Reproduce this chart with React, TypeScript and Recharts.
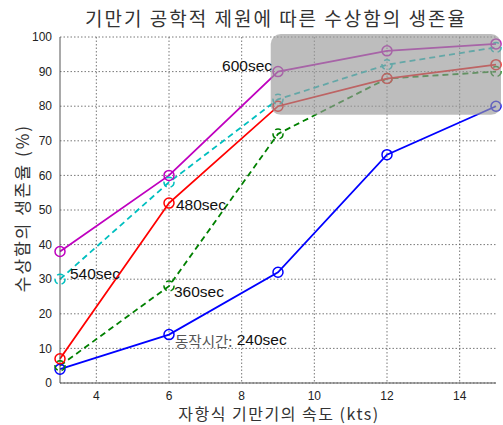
import React from 'react'
import { LineChart, Line, XAxis, YAxis, CartesianGrid, ReferenceArea, LabelList } from 'recharts'

const speeds = [3, 6, 9, 12, 15]
const sec240 = [4, 14, 32, 66, 80]
const sec360 = [5, 28, 72, 88, 90]
const sec480 = [7, 52, 80, 88, 92]
const sec540 = [30, 58, 82, 92, 97]
const sec600 = [38, 60, 90, 96, 98]
const xTicks = [4, 6, 8, 10, 12, 14]
const yTicks = [0, 10, 20, 30, 40, 50, 60, 70, 80, 90, 100]

const data = speeds.map((s, i) => ({
  speed: s,
  s240: sec240[i],
  s360: sec360[i],
  s480: sec480[i],
  s540: sec540[i],
  s600: sec600[i],
}))

const FONT = '"Liberation Sans", Arial, sans-serif'
const KFONT = '"Noto Sans CJK KR", "Liberation Sans", sans-serif'

// text tag next to one point of a series
function tag(idx: number, text: React.ReactNode, anchor: 'start' | 'end', dx: number, dy: number) {
  return (props: any) => {
    if (props.index !== idx) return null
    return (
      <text x={props.x + dx} y={props.y + dy} textAnchor={anchor} dominantBaseline="central"
        fontSize={15.5} fontFamily={FONT} fill="#111">
        {text}
      </text>
    )
  }
}

const dot = (color: string) => ({ r: 5, stroke: color, strokeWidth: 1.5, fill: 'none' })

function GrayBox(props: any) {
  const { x, y, width, height } = props
  return <rect x={x} y={y - 3} width={width + 5} height={height + 3} rx={10} ry={10} fill="#999" fillOpacity={0.65} />
}

export default function App() {
  return (
    <div style={{ position: 'absolute', left: 0, top: 0, width: 503, height: 425, background: '#fff' }}>
      <div style={{ position: 'absolute', left: 276, top: 4, transform: 'translateX(-50%)', whiteSpace: 'nowrap', fontFamily: KFONT, fontSize: 19, letterSpacing: 2, color: '#333' }}>
        기만기 공학적 제원에 따른 수상함의 생존율
      </div>
      <div style={{ position: 'absolute', left: 279, top: 401, transform: 'translateX(-50%)', whiteSpace: 'nowrap', fontFamily: KFONT, fontSize: 16, letterSpacing: 1.5, color: '#333' }}>
        자항식 기만기의 속도 (kts)
      </div>
      <div style={{ position: 'absolute', left: 21, top: 208, transform: 'translate(-50%, -50%) rotate(-90deg)', whiteSpace: 'nowrap', fontFamily: KFONT, fontSize: 17, letterSpacing: 2, color: '#333' }}>
        수상함의 생존율 (%)
      </div>
      <LineChart width={503} height={425} data={data} margin={{ top: 37, right: 7, bottom: 0, left: 0 }}>
        <CartesianGrid stroke="#555" strokeDasharray="1.5 2" strokeWidth={0.8} horizontalValues={yTicks} verticalValues={xTicks} />
        <XAxis dataKey="speed" type="number" domain={[3, 15]} ticks={xTicks} height={42} tickLine={false}
          stroke="#555" tick={{ fontSize: 12, fill: '#222', fontFamily: FONT }} />
        <XAxis xAxisId="top" orientation="top" dataKey="speed" type="number" domain={[3, 15]} height={0} tick={false} tickLine={false} stroke="#555" />
        <YAxis domain={[0, 100]} ticks={yTicks} width={60} tickLine={false} interval={0}
          stroke="#555" tick={{ fontSize: 12, fill: '#222', fontFamily: FONT }} />
        <YAxis yAxisId="right" orientation="right" domain={[0, 100]} width={0} tick={false} tickLine={false} stroke="#555" />
        <Line dataKey="s240" type="linear" stroke="#0000ff" strokeWidth={1.8} dot={dot('#0000ff')} isAnimationActive={false}>
          <LabelList content={tag(1, <><tspan fill="#555" fontFamily={KFONT} fontSize={14.5}>동작시간:</tspan> 240sec</>, 'start', 6, 5)} />
        </Line>
        <Line dataKey="s360" type="linear" stroke="#008000" strokeWidth={1.8} strokeDasharray="6 4" dot={dot('#008000')} isAnimationActive={false}>
          <LabelList content={tag(1, '360sec', 'start', 5, 5)} />
        </Line>
        <Line dataKey="s480" type="linear" stroke="#ff0000" strokeWidth={1.8} dot={dot('#ff0000')} isAnimationActive={false}>
          <LabelList content={tag(1, '480sec', 'start', 7, 1)} />
        </Line>
        <Line dataKey="s540" type="linear" stroke="#00bfbf" strokeWidth={1.8} strokeDasharray="6 4" dot={dot('#00bfbf')} isAnimationActive={false}>
          <LabelList content={tag(0, '540sec', 'start', 10, -6)} />
        </Line>
        <Line dataKey="s600" type="linear" stroke="#bf00bf" strokeWidth={1.8} dot={dot('#bf00bf')} isAnimationActive={false}>
          <LabelList content={tag(2, '600sec', 'end', -6, -6)} />
        </Line>
        <ReferenceArea x1={8.8} x2={15} y1={77.5} y2={100} ifOverflow="visible" shape={GrayBox} zIndex={1000} />
      </LineChart>
    </div>
  )
}
